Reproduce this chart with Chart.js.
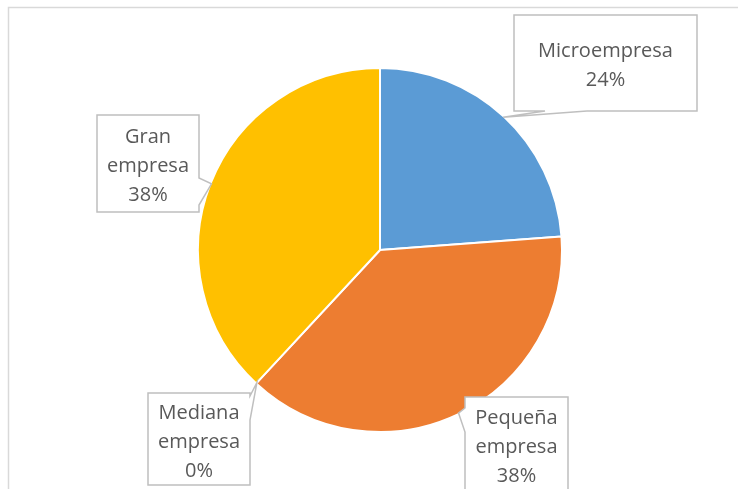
<!DOCTYPE html>
<html lang="es">
<head>
<meta charset="UTF-8">
<title>Tamaño de empresa</title>
<style>
    body { margin: 0; background: #ffffff; }
    #wrap { width: 738px; height: 489px; position: relative; }
</style>
</head>
<body>
<div id="wrap"><canvas id="myChart" width="738" height="489"></canvas></div>
<script src="https://cdn.jsdelivr.net/npm/chart.js"></script>
<script>
// datos
const categorias = ['Microempresa', 'Pequeña empresa', 'Mediana empresa', 'Gran empresa'];
const valores = [5, 8, 0, 8];
const colores = ['#5B9BD5', '#ED7D31', '#A5A5A5', '#FFC000'];

// cajas de las etiquetas (x, y, ancho, alto) y lado de la cola
const cajas = [
    { x: 514, y: 15, w: 183, h: 96, lado: 'bottom', base: [31, 73] },
    { x: 465, y: 397, w: 103, h: 94, lado: 'left', base: [11, 35] },
    { x: 148, y: 393, w: 102, h: 92, lado: 'right', base: [3, 27] },
    { x: 97, y: 115, w: 102, h: 97, lado: 'right', base: [63, 90] }
];

const fuente = '20px "Open Sans", sans-serif';

function partirTexto(ctx, texto, ancho) {
    const palabras = texto.split(' ');
    const lineas = [];
    let actual = '';
    palabras.forEach(p => {
        const prueba = actual ? actual + ' ' + p : p;
        if (actual && ctx.measureText(prueba).width > ancho) {
            lineas.push(actual);
            actual = p;
        } else {
            actual = prueba;
        }
    });
    if (actual) lineas.push(actual);
    return lineas;
}

const bordeGrafico = {
    id: 'bordeGrafico',
    beforeDraw(chart) {
        const ctx = chart.ctx;
        ctx.save();
        ctx.strokeStyle = '#D9D9D9';
        ctx.lineWidth = 1.5;
        ctx.beginPath();
        ctx.moveTo(8.5, chart.height);
        ctx.lineTo(8.5, 7.5);
        ctx.lineTo(chart.width, 7.5);
        ctx.stroke();
        ctx.restore();
    }
};

const etiquetas = {
    id: 'etiquetas',
    afterDraw(chart) {
        const ctx = chart.ctx;
        const meta = chart.getDatasetMeta(0);
        const total = valores.reduce((a, b) => a + b, 0);
        ctx.save();
        ctx.font = fuente;
        meta.data.forEach((arc, i) => {
            const c = cajas[i];
            const mid = (arc.startAngle + arc.endAngle) / 2;
            const r = arc.outerRadius - 1;
            const px = arc.x + r * Math.cos(mid);
            const py = arc.y + r * Math.sin(mid);

            // contorno con cola
            ctx.beginPath();
            ctx.moveTo(c.x, c.y);
            ctx.lineTo(c.x + c.w, c.y);
            if (c.lado === 'right') {
                ctx.lineTo(c.x + c.w, c.y + c.base[0]);
                ctx.lineTo(px, py);
                ctx.lineTo(c.x + c.w, c.y + c.base[1]);
            }
            ctx.lineTo(c.x + c.w, c.y + c.h);
            if (c.lado === 'bottom') {
                ctx.lineTo(c.x + c.base[1], c.y + c.h);
                ctx.lineTo(px, py);
                ctx.lineTo(c.x + c.base[0], c.y + c.h);
            }
            ctx.lineTo(c.x, c.y + c.h);
            if (c.lado === 'left') {
                ctx.lineTo(c.x, c.y + c.base[1]);
                ctx.lineTo(px, py);
                ctx.lineTo(c.x, c.y + c.base[0]);
            }
            ctx.closePath();
            ctx.fillStyle = '#ffffff';
            ctx.fill();
            ctx.strokeStyle = '#BFBFBF';
            ctx.lineWidth = 1.5;
            ctx.stroke();

            // texto
            const pct = Math.round(valores[i] / total * 100) + '%';
            const lineas = partirTexto(ctx, categorias[i], c.w - 10);
            lineas.push(pct);
            const alto = 29;
            const cx = c.x + c.w / 2;
            const y0 = c.y + c.h / 2 + 3 - (lineas.length - 1) * alto / 2;
            ctx.fillStyle = '#595959';
            ctx.textAlign = 'center';
            ctx.textBaseline = 'middle';
            lineas.forEach((l, k) => ctx.fillText(l, cx, y0 + k * alto));
        });
        ctx.restore();
    }
};

const ctx = document.getElementById('myChart').getContext('2d');
new Chart(ctx, {
    type: 'pie',
    data: {
        labels: categorias,
        datasets: [{
            data: valores,
            backgroundColor: colores,
            borderColor: '#ffffff',
            borderWidth: 2
        }]
    },
    options: {
        responsive: false,
        animation: false,
        layout: { padding: { left: 197, right: 175, top: 67, bottom: 56 } },
        plugins: {
            legend: { display: false },
            tooltip: { enabled: false }
        }
    },
    plugins: [bordeGrafico, etiquetas]
});
</script>
</body>
</html>
